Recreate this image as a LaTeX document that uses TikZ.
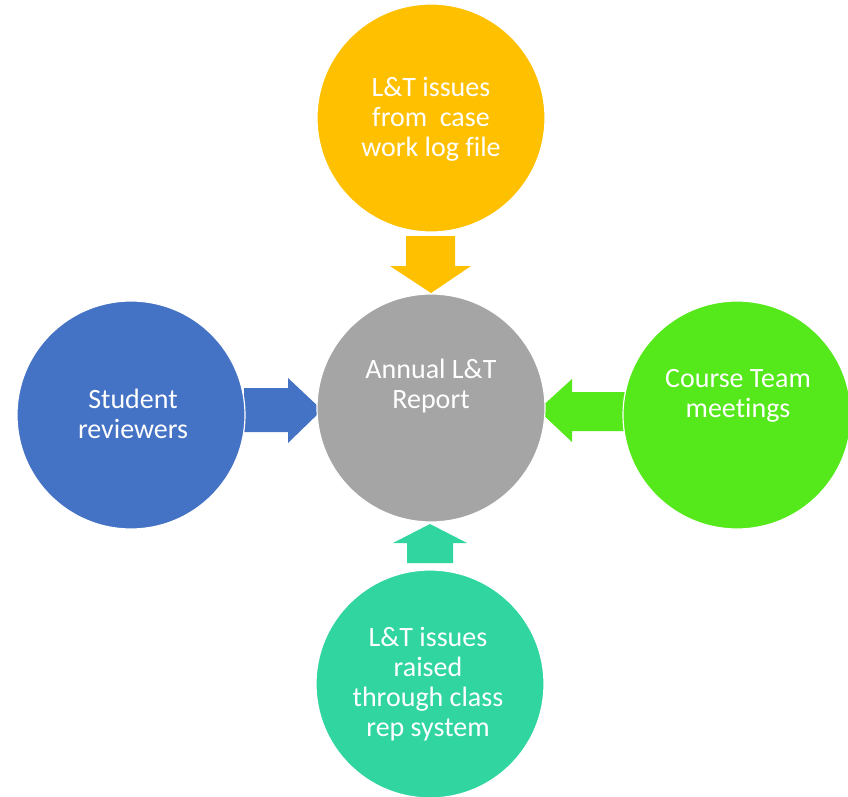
\documentclass[tikz,border=0pt]{standalone}
\usepackage{fontspec}
\setmainfont{Carlito}[Ligatures=NoCommon]
\definecolor{cgray}{HTML}{A5A5A5}
\definecolor{cyellow}{HTML}{FFC000}
\definecolor{cblue}{HTML}{4472C4}
\definecolor{cgreen}{HTML}{55E81A}
\definecolor{cteal}{HTML}{30D5A0}
\begin{document}
\begin{tikzpicture}[x=1pt,y=-1pt,
  bubble/.style={circle, minimum size=228pt, inner sep=0pt, draw=white, line width=1.2pt},
  btext/.style={text=white, align=center, font=\fontsize{28}{30}\selectfont, inner sep=0pt}]
\useasboundingbox[fill=white] (0,0) rectangle (848,797);
% block arrows (behind circles)
\fill[cyellow] (406,236) -- (455,236) -- (455,266) -- (471,266) -- (431,293) -- (390,266) -- (406,266) -- cycle;
\fill[cblue] (244,388) -- (288,388) -- (288,378) -- (322,410) -- (288,443) -- (288,432) -- (244,432) -- cycle;
\fill[cgreen] (626,392) -- (572,392) -- (572,379) -- (538,410) -- (572,442) -- (572,431) -- (626,431) -- cycle;
\fill[cteal] (407,563) -- (407,543) -- (393,543) -- (430,524) -- (467,543) -- (453,543) -- (453,563) -- cycle;
% circles
\node[bubble, fill=cgray]   (center) at (431,408) {};
\node[bubble, fill=cyellow] (top)    at (431,118) {};
\node[bubble, fill=cblue]   (left)   at (131,415) {};
\node[bubble, fill=cgreen]  (right)  at (737,415) {};
\node[bubble, fill=cteal]   (bottom) at (430,684) {};
% texts
\node[btext] (tcenter) at (431,386) {Annual L\&T\\Report};
\node[btext] (ttop)    at (431,119) {L\&T issues\\from~~case\\work log file};
\node[btext] (tleft)   at (133,414) {Student\\reviewers};
\node[btext] (tright)  at (738,396) {Course Team\\meetings};
\node[btext] (tbottom) at (428,684) {L\&T issues\\raised\\through class\\rep system};
\end{tikzpicture}
\end{document}
